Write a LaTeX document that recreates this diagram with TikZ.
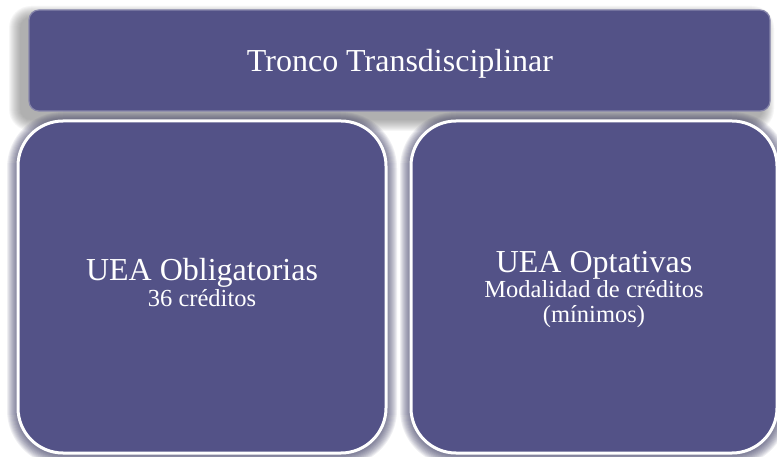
\documentclass[tikz,border=0pt]{standalone}
\usepackage{fontspec}
\setmainfont{Liberation Serif}
\usetikzlibrary{calc}
\definecolor{boxfill}{RGB}{83,82,135}
\definecolor{glow}{RGB}{55,55,95}
\definecolor{shadowgray}{RGB}{95,95,95}
\begin{document}
\begin{tikzpicture}[x=1pt,y=-1pt,
  topbox/.style={rectangle, fill=boxfill, draw=boxfill!70!white, line width=1.2pt,
    rounded corners=10pt, inner sep=0pt, outer sep=0pt},
  lowbox/.style={rectangle, fill=boxfill, draw=white, line width=3pt,
    rounded corners=45pt, inner sep=0pt, outer sep=0pt},
  bigtxt/.style={text=white, inner sep=0pt, anchor=base, font=\fontsize{32}{38}\selectfont},
  smalltxt/.style={text=white, inner sep=0pt, anchor=base, font=\fontsize{24.5}{29}\selectfont}]
\useasboundingbox (0,0) rectangle (777,457);
\fill[white] (0,0) rectangle (777,457);

% coordinates for shapes
\coordinate (topnw) at (29,10);
\coordinate (topse) at (770,111);
\coordinate (lnw) at (18,121);
\coordinate (lse) at (386,453);
\coordinate (rnw) at (411,121);
\coordinate (rse) at (777,453);

% shadow of top box (gray, offset left and down)
\foreach \r in {1,...,12}{
  \fill[shadowgray, opacity=0.05, rounded corners=10+\r]
    ($(topnw)+(-8-\r,8-\r)$) rectangle ($(topse)+(-8+\r,8+\r)$);
}
\node[topbox, fit/.style={}, minimum width=741pt, minimum height=101pt] (top) at (399.5,60.5) {};
\node[bigtxt] (toptxt) at (400,72) {Tronco Transdisciplinar};

% glow of lower boxes
\foreach \r in {1,...,11}{
  \fill[glow, opacity=0.08, rounded corners=45+\r]
    ($(lnw)+(-\r,-\r+2)$) rectangle ($(lse)+(\r,\r+2)$);
  \fill[glow, opacity=0.08, rounded corners=45+\r]
    ($(rnw)+(-\r,-\r+2)$) rectangle ($(rse)+(\r,\r+2)$);
}
\node[lowbox, minimum width=368pt, minimum height=332pt] (left) at (202,287) {};
\node[lowbox, minimum width=366pt, minimum height=332pt] (right) at (594,287) {};

\node[bigtxt] (lt1) at (202,280) {UEA Obligatorias};
\node[smalltxt] (lt2) at (202,306) {36 créditos};

\node[bigtxt] (rt1) at (594,273) {UEA Optativas};
\node[smalltxt] (rt2) at (594,298) {Modalidad de créditos};
\node[smalltxt] (rt3) at (594,323) {(mínimos)};
\end{tikzpicture}
\end{document}
